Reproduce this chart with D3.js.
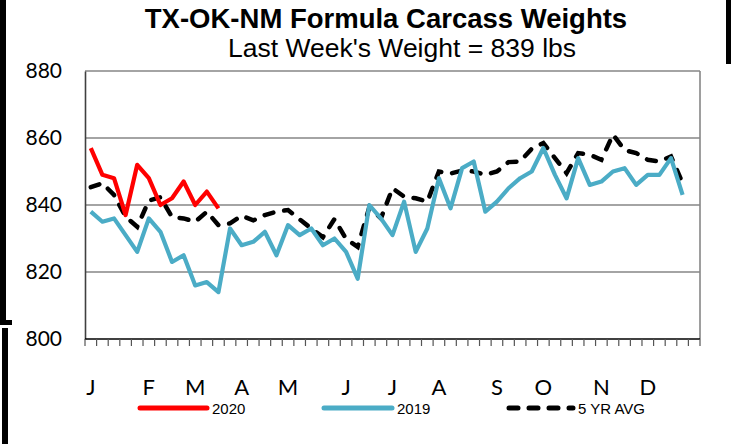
<!DOCTYPE html>
<html>
<head>
<meta charset="utf-8">
<script src="https://cdn.jsdelivr.net/npm/d3@7"></script>
<style>
  body { margin: 0; background: #fff; }
  svg { display: block; }
</style>
</head>
<body>
<svg id="chart" width="732" height="444"></svg>
<script>
// weekly carcass weights, lbs
const y2020 = [857, 849, 848, 837, 852, 848, 840, 842, 847, 840, 844, 839];
const y2019 = [838, 835, 836, 831, 826, 836, 832, 823, 825, 816, 817, 814,
  833, 828, 829, 832, 825, 834, 831, 833, 828, 830, 826, 818,
  840, 836, 831, 841, 826, 833, 848, 839, 851, 853, 838, 841,
  845, 848, 850, 857, 849, 842, 854, 846, 847, 850, 851, 846,
  849, 849, 854, 843];
const avg5 = [845.3, 846.5, 843, 836.5, 833.5, 841.3, 842.3, 836.4, 836, 835, 838, 834,
  834.5, 836.8, 835.4, 837, 838, 838.5, 835.7, 833, 830.4, 835.8, 829.9, 827.5,
  839.3, 836, 845, 842.5, 842, 841, 850, 849.4, 850.3, 850, 849, 850,
  852.8, 853, 856.8, 858.5, 854, 849.5, 855.5, 855, 853.5, 861, 856.4, 855.5,
  853.5, 853, 854.5, 846.5];
const monthLabels = ['J', 'F', 'M', 'A', 'M', 'J', 'J', 'A', 'S', 'O', 'N', 'D'];
const monthWeek = [0, 5, 9, 13, 17, 22, 26, 30, 35, 39, 44, 48];
const yTicks = [800, 820, 840, 860, 880];
const nWeeks = 53;

const svg = d3.select('#chart');
const plotL = 85, plotR = 700, plotT = 71, plotB = 339;

const x = d3.scaleBand().domain(d3.range(nWeeks)).range([plotL, plotR]).paddingInner(0);
const y = d3.scaleLinear().domain([800, 880]).range([plotB, plotT]);
const xc = i => x(i) + x.bandwidth() / 2;

// frame bits at the edges
svg.append('rect').attr('x', 0).attr('y', 0).attr('width', 6).attr('height', 323).attr('fill', '#000');
svg.append('rect').attr('x', 0).attr('y', 320).attr('width', 12).attr('height', 5).attr('fill', '#000');
svg.append('rect').attr('x', 2).attr('y', 328).attr('width', 6).attr('height', 116).attr('fill', '#000');
svg.append('rect').attr('x', 726).attr('y', 0).attr('width', 5).attr('height', 64).attr('fill', '#000');

// titles
svg.append('text')
  .attr('x', 386).attr('y', 28)
  .attr('text-anchor', 'middle')
  .style('font-family', 'Liberation Sans, Arial, sans-serif')
  .style('font-weight', 'bold').style('font-size', '27.5px')
  .text('TX-OK-NM Formula Carcass Weights');
svg.append('text')
  .attr('x', 402).attr('y', 57)
  .attr('text-anchor', 'middle')
  .style('font-family', 'Liberation Sans, Arial, sans-serif')
  .style('font-size', '26.5px')
  .text("Last Week's Weight = 839 lbs");

// gridlines
svg.append('g').selectAll('line')
  .data(yTicks.filter(d => d > 800))
  .join('line')
  .attr('x1', plotL).attr('x2', plotR)
  .attr('y1', d => y(d)).attr('y2', d => y(d))
  .attr('stroke', '#868686').attr('stroke-width', 1.6);

// right border
svg.append('line')
  .attr('x1', plotR).attr('x2', plotR).attr('y1', plotT).attr('y2', plotB)
  .attr('stroke', '#868686').attr('stroke-width', 1.6);

// y axis
const yAxis = svg.append('g')
  .attr('transform', `translate(${plotL},0)`)
  .call(d3.axisLeft(y).tickValues(yTicks).tickSize(0).tickPadding(23));
yAxis.select('.domain').attr('stroke', '#404040').attr('stroke-width', 1.6);
yAxis.selectAll('text')
  .style('font-family', 'Lato, Calibri, sans-serif').style('font-size', '21px').attr('fill', '#000');

// x axis: week ticks at band edges
const edges = d3.range(nWeeks + 1).map(i => plotL + i * x.bandwidth());
svg.append('line')
  .attr('x1', plotL).attr('x2', plotR).attr('y1', plotB).attr('y2', plotB)
  .attr('stroke', '#000').attr('stroke-width', 1.6);
svg.append('g').selectAll('line')
  .data(edges)
  .join('line')
  .attr('x1', d => d).attr('x2', d => d)
  .attr('y1', plotB).attr('y2', plotB + 7)
  .attr('stroke', '#555').attr('stroke-width', 1.2);

svg.append('g').selectAll('text')
  .data(monthLabels)
  .join('text')
  .attr('x', (d, i) => xc(monthWeek[i]))
  .attr('y', 395)
  .attr('text-anchor', 'middle')
  .style('font-family', 'Lato, Calibri, sans-serif').style('font-size', '22px')
  .text(d => d);

// series
const line = d3.line().x((d, i) => xc(i)).y(d => y(d));

svg.append('path').datum(avg5)
  .attr('d', line).attr('fill', 'none')
  .attr('stroke', '#000').attr('stroke-width', 4.5)
  .attr('stroke-dasharray', '9,11').attr('stroke-linecap', 'round');

svg.append('path').datum(y2019)
  .attr('d', line).attr('fill', 'none')
  .attr('stroke', '#4BACC6').attr('stroke-width', 4.2)
  .attr('stroke-linejoin', 'round');

svg.append('path').datum(y2020)
  .attr('d', line).attr('fill', 'none')
  .attr('stroke', '#FF0000').attr('stroke-width', 4.2)
  .attr('stroke-linejoin', 'round');

// legend
const legend = [
  { name: '2020', color: '#FF0000', x1: 140, x2: 207, dash: null },
  { name: '2019', color: '#4BACC6', x1: 324, x2: 392, dash: null },
  { name: '5 YR AVG', color: '#000', x1: 509, x2: 573, dash: '9,11' }
];
const lg = svg.append('g').selectAll('g').data(legend).join('g');
lg.append('line')
  .attr('x1', d => d.x1).attr('x2', d => d.x2)
  .attr('y1', 408).attr('y2', 408)
  .attr('stroke', d => d.color).attr('stroke-width', 5)
  .attr('stroke-linecap', 'round')
  .attr('stroke-dasharray', d => d.dash);
lg.append('text')
  .attr('x', d => d.x2 + 5).attr('y', 414)
  .style('font-family', 'Liberation Sans, Arial, sans-serif').style('font-size', '15px')
  .text(d => d.name);
</script>
</body>
</html>
